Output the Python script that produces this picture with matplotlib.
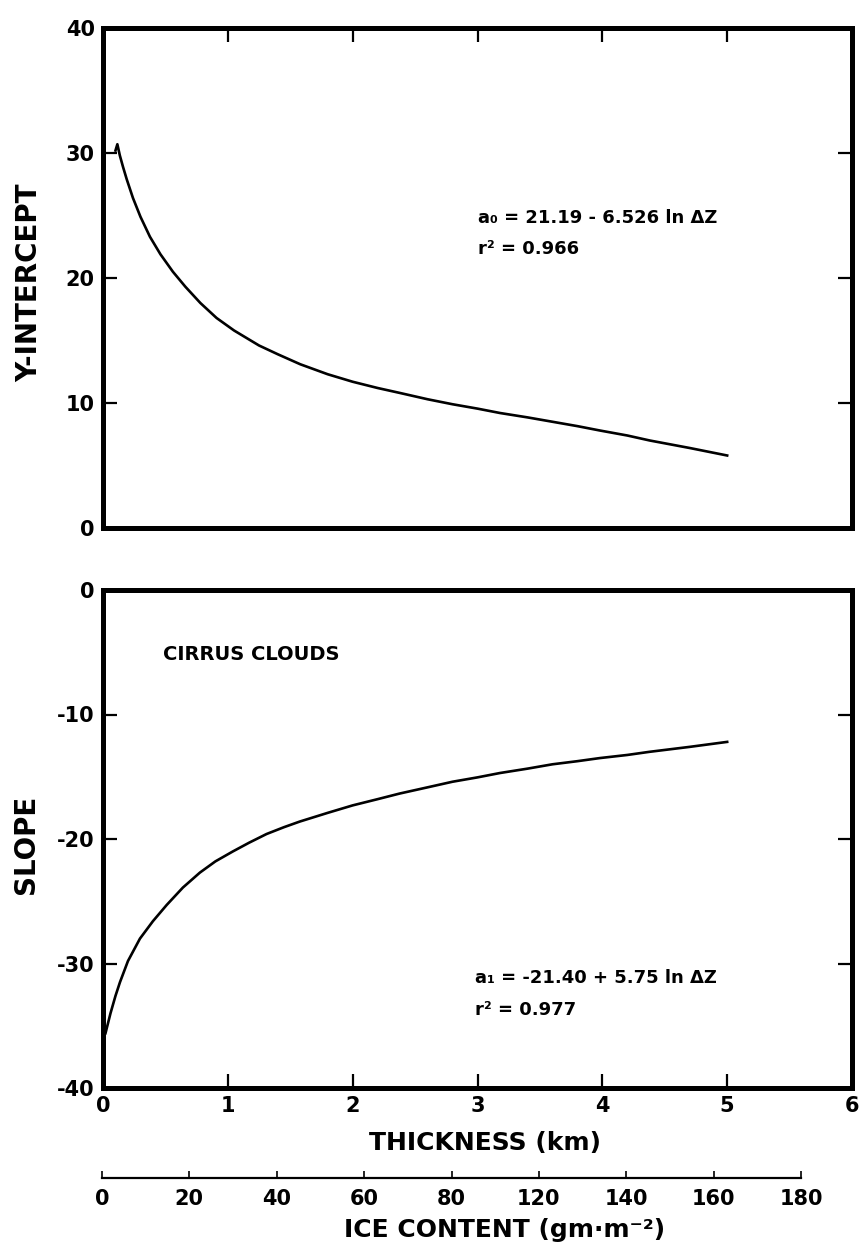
import numpy as np
import matplotlib
matplotlib.use("Agg")
import matplotlib.pyplot as plt

plt.rcParams['font.family'] = ['DejaVu Sans']
plt.rcParams['axes.unicode_minus'] = False

# y-intercept curve
thick_a0 = [0.10, 0.115, 0.135, 0.16, 0.19, 0.24, 0.30, 0.376, 0.46, 0.56, 0.66, 0.78, 0.91,
            1.05, 1.25, 1.40, 1.58, 1.8, 2.0, 2.2, 2.38, 2.6, 2.8, 3.0, 3.18, 3.4, 3.6,
            3.8, 3.98, 4.2, 4.38, 4.7, 5.0]
a0 = [30.2, 30.7, 29.8, 28.9, 27.9, 26.4, 24.9, 23.3, 21.9, 20.5, 19.3, 18.0, 16.8,
      15.8, 14.6, 13.9, 13.1, 12.3, 11.7, 11.2, 10.8, 10.3, 9.9, 9.55, 9.2, 8.85, 8.5,
      8.15, 7.8, 7.4, 7.0, 6.4, 5.8]

# slope curve
thick_a1 = [0.02, 0.06, 0.10, 0.136, 0.2, 0.296, 0.4, 0.51, 0.64, 0.776, 0.9, 1.04, 1.17,
            1.31, 1.45, 1.576, 1.8, 2.0, 2.2, 2.376, 2.6, 2.8, 3.0, 3.18, 3.4, 3.6, 3.8,
            3.98, 4.2, 4.376, 4.7, 5.0]
a1 = [-35.6, -34.0, -32.6, -31.5, -29.8, -28.0, -26.6, -25.3, -23.9, -22.7, -21.8, -21.0,
      -20.3, -19.6, -19.05, -18.6, -17.9, -17.3, -16.8, -16.35, -15.85, -15.4, -15.05,
      -14.7, -14.35, -14.0, -13.75, -13.5, -13.25, -13.0, -12.6, -12.2]

x_ticks = [0, 1, 2, 3, 4, 5, 6]
a0_ticks = [0, 10, 20, 30, 40]
a1_ticks = [0, -10, -20, -30, -40]
ice_ticks = [0, 20, 40, 60, 80, 100, 120, 140, 160]
ice_labels = ['0', '20', '40', '60', '80', '120', '140', '160', '180']  # as printed

eq0 = ['a\u2080 = 21.19 - 6.526 ln \u0394Z', 'r\u00b2 = 0.966']
eq1 = ['a\u2081 = -21.40 + 5.75 ln \u0394Z', 'r\u00b2 = 0.977']

W, H = 865, 1259
fig = plt.figure(figsize=(W / 100, H / 100), dpi=100)
ax1 = fig.add_axes([103 / W, 1 - 528 / H, 749 / W, 500 / H])
ax2 = fig.add_axes([103 / W, 1 - 1088 / H, 749 / W, 498 / H])
ax3 = fig.add_axes([102 / W, 1 - 1178 / H, 699 / W, 0.0005])

for ax in (ax1, ax2):
    for s in ax.spines.values():
        s.set_linewidth(3.6)
    ax.set_xlim(0, 6)
    ax.tick_params(direction='in', length=10, width=1.6, labelsize=15, pad=6)

# top panel
ax1.plot(thick_a0, a0, color='black', lw=1.9)
ax1.set_ylim(0, 40)
ax1.set_yticks(a0_ticks)
ax1.set_yticklabels([str(t) for t in a0_ticks], fontweight='bold', fontsize=15)
ax1.set_xticks(x_ticks[1:-1])
ax1.tick_params(axis='x', bottom=False, top=True, labelbottom=False)
ax1.tick_params(axis='y', left=True, right=True)
ax1.set_ylabel('Y-INTERCEPT', fontsize=20, fontweight='bold')
ax1.yaxis.set_label_coords(-0.099, 0.49)
ax1.yaxis.label.set_va('center')
ax1.text(3.0, 24.8, eq0[0], fontsize=13, fontweight='bold', va='center')
ax1.text(3.0, 22.3, eq0[1], fontsize=13, fontweight='bold', va='center')

# bottom panel
ax2.plot(thick_a1, a1, color='black', lw=1.9)
ax2.set_ylim(-40, 0)
ax2.set_yticks(a1_ticks)
ax2.set_yticklabels([str(t) for t in a1_ticks], fontweight='bold', fontsize=15)
ax2.set_xticks(x_ticks)
ax2.set_xticklabels([str(t) for t in x_ticks], fontweight='bold', fontsize=15)
ax2.tick_params(axis='y', left=True, right=True)
ax2.set_ylabel('SLOPE', fontsize=20, fontweight='bold')
ax2.yaxis.set_label_coords(-0.103, 0.49)
ax2.yaxis.label.set_va('center')
ax2.set_xlabel('THICKNESS (km)', fontsize=18, fontweight='bold')
ax2.xaxis.set_label_coords(0.51, -0.11)
ax2.xaxis.label.set_va('center')
ax2.text(0.48, -5.2, 'CIRRUS CLOUDS', fontsize=14, fontweight='bold', va='center')
ax2.text(2.98, -31.2, eq1[0], fontsize=13, fontweight='bold', va='center')
ax2.text(2.98, -33.7, eq1[1], fontsize=13, fontweight='bold', va='center')

# hide tick marks at the frame corners / ends
for ax in (ax1, ax2):
    for t in ax.yaxis.get_major_ticks():
        if t.get_loc() in (0, 40, -40):
            t.tick1line.set_visible(False)
            t.tick2line.set_visible(False)
for t in ax2.xaxis.get_major_ticks():
    if t.get_loc() in (0, 6):
        t.tick1line.set_visible(False)

# ice content scale
ax3.set_xlim(0, 160)
ax3.set_yticks([])
ax3.patch.set_visible(False)
for k in ('top', 'left', 'right'):
    ax3.spines[k].set_visible(False)
ax3.spines['bottom'].set_linewidth(1.6)
ax3.set_xticks(ice_ticks)
ax3.set_xticklabels(ice_labels, fontsize=15, fontweight='bold')
ax3.tick_params(axis='x', direction='in', length=5, width=1.2, pad=8)
fig.text(505 / W, 1 - 1230 / H, 'ICE CONTENT (gm\u00b7m\u207b\u00b2)', fontsize=18,
         fontweight='bold', ha='center', va='center')

fig.savefig('out.png', dpi=100)
